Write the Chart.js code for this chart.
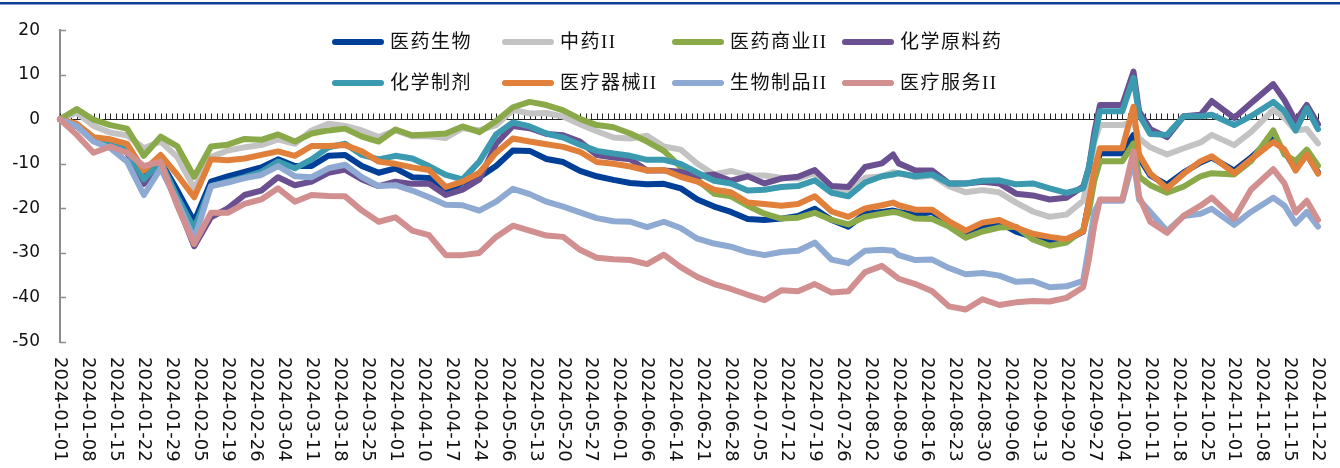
<!DOCTYPE html>
<html>
<head>
<meta charset="utf-8">
<script src="https://cdn.jsdelivr.net/npm/chart.js@4.4.1/dist/chart.umd.min.js"></script>
<style>
  html, body { margin: 0; padding: 0; background: #fff; }
</style>
</head>
<body>
<canvas id="myChart" width="1340" height="468"></canvas>
<script>
// trading-day index of each sampled point (0 = 2024-01-01, 225 = 2024-11-22)
var sampleIdx = [0,3,6,9,12,15,18,21,24,27,30,33,36,39,42,45,48,51,54,57,60,63,66,69,72,75,78,81,84,87,90,93,96,99,102,105,108,111,114,117,120,123,126,129,132,135,138,141,144,147,149,150,153,156,159,162,165,168,171,174,177,180,183,184,185,186,189,190,192,193,195,198,201,204,206,210,213,217,219,221,223,225];

// one label every 5 trading days
var dateLabels = ['2024-01-01','2024-01-08','2024-01-15','2024-01-22','2024-01-29','2024-02-05','2024-02-19','2024-02-26','2024-03-04','2024-03-11','2024-03-18','2024-03-25','2024-04-01','2024-04-10','2024-04-17','2024-04-24','2024-05-06','2024-05-13','2024-05-20','2024-05-27','2024-06-01','2024-06-06','2024-06-14','2024-06-21','2024-06-28','2024-07-05','2024-07-12','2024-07-19','2024-07-26','2024-08-02','2024-08-09','2024-08-16','2024-08-23','2024-08-30','2024-09-06','2024-09-13','2024-09-20','2024-09-27','2024-10-04','2024-10-11','2024-10-18','2024-10-25','2024-11-01','2024-11-08','2024-11-15','2024-11-22'];

var seriesNames = ['医药生物','中药II','医药商业II','化学原料药','化学制剂','医疗器械II','生物制品II','医疗服务II'];
var seriesColors = ['#003f98','#c3c3c3','#8aaa4a','#6a5090','#3b9ab0','#e0803a','#8faad2','#d28f8f'];

var yiyaoShengwu = [0,-1.5,-4.5,-5.5,-7,-12.5,-9.5,-16,-23,-14,-12.8,-11.8,-10.8,-9,-10.5,-10.5,-8.2,-8,-10.5,-12,-11,-13,-13.2,-16.5,-14.2,-13,-10.5,-7,-7.1,-8.9,-9.6,-11.6,-12.8,-13.6,-14.3,-14.6,-14.5,-15.5,-18,-19.6,-20.8,-22.4,-22.6,-22.3,-21.7,-20.1,-22.6,-24.1,-21.2,-20.8,-20.5,-20.8,-21.4,-20.8,-23.4,-25.3,-24.3,-23.2,-25.2,-26.4,-27.3,-27.2,-25.2,-18.7,-12.2,-7.6,-7.6,-7.6,-3.5,-8.6,-12.6,-14.7,-11.9,-9.7,-8.6,-11.5,-8.6,-4,-7.2,-11.2,-7.9,-11.9];
var zhongyao = [0,1.5,-1.5,-3,-3.6,-6.5,-5,-8.5,-15.5,-8.5,-7,-6.3,-5.8,-4.5,-5.5,-2.5,-1,-1.5,-2.5,-4,-2.5,-3.8,-3.8,-4.2,-2,-2.5,-1.3,2.1,1.3,1.4,0.6,-1.1,-2.7,-4.1,-4.3,-3.7,-6.1,-6.8,-10,-12.4,-11.6,-12.6,-12.6,-13.1,-13.3,-12.1,-15.1,-16.4,-13.1,-12.8,-11.9,-12.1,-13,-12.6,-15,-16.4,-15.9,-16.4,-18.7,-20.7,-21.9,-21.4,-18.3,-12.9,-5,-1.3,-1.3,-1.3,-0.5,-4.3,-6.3,-7.9,-6.5,-5.2,-3.5,-5.8,-2.9,2.1,0.3,-2.5,-2.2,-5.4];
var yiyaoShangye = [0,2.3,-0.1,-1.3,-2.1,-8.2,-3.9,-6.1,-12.9,-6.1,-5.7,-4.4,-4.6,-3.4,-5,-3.2,-2.5,-2.1,-3.9,-5,-2.3,-3.6,-3.4,-3.2,-1.6,-2.9,-0.4,2.7,3.9,3.2,2,0.1,-1.3,-1.8,-3.2,-5,-7.1,-10.7,-13.6,-16.7,-17.3,-19.4,-21.2,-22.3,-22.1,-21,-22.6,-23.6,-21.9,-21.2,-20.8,-21,-22.3,-22.4,-24.1,-26.6,-25.2,-24.3,-24.1,-27,-28.4,-27.7,-24.8,-20.8,-13.7,-9.4,-9.4,-9.4,-5.4,-12.9,-14.8,-16.5,-15.1,-12.8,-12.1,-12.4,-9.4,-2.5,-7.9,-9.4,-6.8,-10.4];
var huaxueYuanliao = [0,-1.5,-4.5,-5.5,-7.5,-14.5,-10,-19,-28.5,-22,-20,-17,-16,-13,-14.8,-14,-12,-11.3,-13.5,-15,-14,-14.5,-14.5,-17,-15.8,-13.5,-5.5,-1.5,-2,-3.3,-3.6,-5,-8,-8.6,-9,-11.5,-11.5,-11.8,-12.8,-12.4,-13.8,-12.8,-14.4,-13.3,-12.9,-11.4,-15,-15.2,-10.7,-9.9,-7.9,-9.9,-11.5,-11.5,-14.4,-14.4,-14,-14.4,-16.7,-17.1,-18,-17.6,-15.1,-11.1,-2.9,3.2,3.2,3.2,10.7,1.8,-2.2,-4,0.7,1,4.1,0.3,3.6,7.9,4.3,-0.4,3.2,-1.1];
var huaxueZhiji = [0,-1.5,-4.5,-5.5,-7,-13.5,-9.5,-17.5,-24.5,-15,-14,-13,-11.8,-9.5,-11,-9,-6.3,-5.5,-8,-9,-8.2,-8.8,-10.5,-12.5,-13.5,-9.5,-3.4,-0.7,-1.6,-3.2,-4.1,-5.7,-7.1,-7.7,-8.2,-9.1,-9.1,-10,-12,-13.8,-14.4,-16,-15.8,-15.2,-15,-13.7,-16.5,-17.3,-14.2,-12.8,-12.4,-12.1,-12.8,-12.4,-14.4,-14.4,-13.8,-13.7,-14.6,-14.4,-15.5,-16.5,-15.5,-10.8,-4.3,1.8,1.8,1.8,9.3,1,-3.3,-3.5,0.7,0.7,1,-1.3,0.7,3.9,1.8,-2.5,2.5,-2.2];
var yiliaoQixie = [0,-1,-4,-4.5,-5.5,-11.5,-8,-12.5,-17.5,-9,-9.2,-8.8,-8,-7.2,-8.2,-6,-6,-5.8,-7.2,-9.5,-10,-10.8,-11.4,-15.2,-14,-12,-7.5,-4.3,-5,-5.6,-6.2,-7.3,-9.6,-10,-10.6,-11.5,-11.4,-12.9,-14,-15.8,-16.4,-18.7,-19,-19.4,-19,-17.3,-20.7,-21.9,-20,-19.3,-18.7,-19.3,-20.3,-20.3,-22.9,-25,-23.2,-22.6,-24.3,-25.7,-26.4,-26.9,-25.2,-18.7,-11.5,-6.5,-6.5,-6.5,2.8,-7.9,-12.2,-15.5,-12.2,-9.4,-8.3,-12.1,-9,-5.1,-6.8,-11.5,-7.9,-12.2];
var shengwuZhipin = [0,-1.5,-5,-6.5,-9.5,-17,-11,-18.5,-27,-15,-14.2,-13.2,-12.5,-10.5,-12.8,-13,-11,-10.2,-13,-15,-14.8,-16,-17.5,-19.2,-19.3,-20.5,-18.5,-15.6,-16.8,-18.5,-19.6,-20.9,-22.2,-22.9,-23,-24.2,-23,-24.4,-26.8,-27.9,-28.6,-29.8,-30.5,-29.8,-29.5,-27.7,-31.5,-32.3,-29.5,-29.3,-29.5,-30.5,-31.6,-31.5,-33.4,-34.8,-34.5,-35.1,-36.5,-36.3,-37.7,-37.5,-36.3,-28.7,-20.8,-18.3,-18.3,-18.3,-9,-18,-20.8,-25.1,-21.7,-21.2,-20.1,-23.7,-20.8,-17.6,-19.4,-23.4,-20.8,-24.1];
var yiliaoFuwu = [0,-3.5,-7.5,-6.1,-7.5,-10.5,-9.5,-19.5,-28,-21,-21,-19,-18,-15.5,-18.5,-17,-17.2,-17.3,-20.5,-23,-22,-25,-26,-30.5,-30.5,-30,-26.4,-23.9,-25,-26.1,-26.4,-29.3,-31.1,-31.4,-31.6,-32.5,-30.4,-33.2,-35.4,-37,-38.1,-39.4,-40.6,-38.4,-38.6,-37,-38.9,-38.6,-34.3,-32.9,-34.8,-35.8,-37,-38.6,-42,-42.7,-40.4,-41.7,-41.1,-40.8,-40.9,-40.1,-37.7,-31.6,-23.7,-18,-18,-18,-7.2,-17.3,-23,-25.5,-21.6,-19.4,-17.6,-22.3,-15.8,-11.2,-14.4,-20.9,-18.3,-22.6];

var seriesValues = [yiyaoShengwu, zhongyao, yiyaoShangye, huaxueYuanliao, huaxueZhiji, yiliaoQixie, shengwuZhipin, yiliaoFuwu];
var lastIdx = 225;

var datasets = seriesNames.map(function (name, s) {
  return {
    label: name,
    data: sampleIdx.map(function (ix, j) { return { x: ix, y: seriesValues[s][j] }; }),
    borderColor: seriesColors[s],
    backgroundColor: seriesColors[s],
    borderWidth: 6,
    pointRadius: 0,
    tension: 0,
    fill: false,
    borderJoinStyle: 'round',
    borderCapStyle: 'round',
    clip: false,
    order: seriesNames.length - s   // later series drawn on top, like the original
  };
});

var decor = {
  id: 'decor',
  beforeDatasetsDraw: function (chart) {
    var ctx = chart.ctx, x = chart.scales.x, y = chart.scales.y, area = chart.chartArea;
    ctx.save();
    // zero line with a small tick for every trading day
    var y0 = Math.round(y.getPixelForValue(0)) + 0.5;
    ctx.strokeStyle = '#222';
    ctx.lineWidth = 1;
    ctx.beginPath();
    ctx.moveTo(area.left, y0);
    ctx.lineTo(area.right, y0);
    for (var i = 0; i <= lastIdx; i++) {
      var px = Math.round(x.getPixelForValue(i)) + 0.5;
      ctx.moveTo(px, y0);
      ctx.lineTo(px, y0 - 6);
    }
    ctx.stroke();
    // inward ticks on the y axis
    ctx.strokeStyle = '#8c8c8c';
    ctx.lineWidth = 1.5;
    ctx.beginPath();
    y.ticks.forEach(function (t) {
      var py = Math.round(y.getPixelForValue(t.value)) + 0.5;
      ctx.moveTo(area.left, py);
      ctx.lineTo(area.left + 6, py);
    });
    ctx.stroke();
    ctx.restore();
  },
  afterDraw: function (chart) {
    var ctx = chart.ctx, x = chart.scales.x;
    ctx.save();
    // dark rule across the top
    ctx.fillStyle = '#0b3d91';
    ctx.fillRect(0, 2, chart.width, 2.5);

    // date labels, rotated to read downwards
    ctx.fillStyle = '#111';
    ctx.font = '18px "DejaVu Sans"';
    ctx.textAlign = 'left';
    ctx.textBaseline = 'middle';
    dateLabels.forEach(function (t, k) {
      var px = x.getPixelForValue(k * 5);
      ctx.save();
      ctx.translate(px, 357);
      ctx.rotate(Math.PI / 2);
      ctx.fillText(t, 0, 0);
      ctx.restore();
    });

    // legend: two rows of four
    var cols = [332, 502, 672, 842];
    var rows = [42, 83];
    ctx.font = '19px "Liberation Serif", "Noto Sans CJK SC"';
    ctx.textBaseline = 'middle';
    seriesNames.forEach(function (name, s) {
      var cx = cols[s % 4], cy = rows[Math.floor(s / 4)];
      ctx.strokeStyle = seriesColors[s];
      ctx.lineWidth = 6;
      ctx.lineCap = 'round';
      ctx.beginPath();
      ctx.moveTo(cx + 3, cy);
      ctx.lineTo(cx + 49, cy);
      ctx.stroke();
      ctx.fillStyle = '#111';
      if ('letterSpacing' in ctx) ctx.letterSpacing = '1.5px';
      ctx.fillText(name, cx + 58, cy + 1);
      if ('letterSpacing' in ctx) ctx.letterSpacing = '0px';
    });
    ctx.restore();
  }
};

var ctx = document.getElementById('myChart').getContext('2d');
var myChart = new Chart(ctx, {
  type: 'line',
  data: { datasets: datasets },
  options: {
    responsive: false,
    animation: false,
    devicePixelRatio: 1,
    layout: { padding: { top: 17, right: 22, left: 0, bottom: 0 } },
    plugins: {
      legend: { display: false },
      tooltip: { enabled: false }
    },
    scales: {
      x: {
        type: 'linear',
        min: 0,
        max: lastIdx,
        grid: { display: false },
        border: { display: false },
        ticks: { display: false },
        afterFit: function (s) { s.height = 126; }
      },
      y: {
        min: -50,
        max: 20,
        ticks: {
          stepSize: 10,
          padding: 20,
          color: '#111',
          font: { family: 'DejaVu Sans', size: 17 }
        },
        grid: { drawOnChartArea: false, drawTicks: false },
        border: { color: '#8c8c8c', width: 2 },
        afterFit: function (s) { s.width = 60; }
      }
    }
  },
  plugins: [decor]
});
</script>
</body>
</html>
